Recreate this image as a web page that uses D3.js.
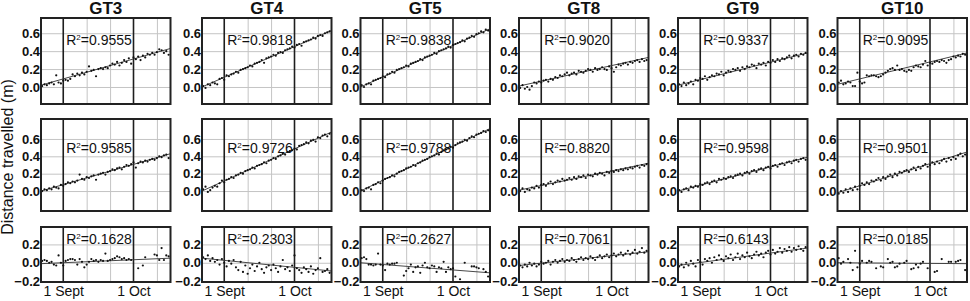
<!DOCTYPE html>
<html>
<head>
<meta charset="utf-8">
<script src="https://cdn.jsdelivr.net/npm/d3@7"></script>
<style>
  body { margin: 0; background: #fff; }
  svg { display: block; font-family: "Liberation Sans", Arial, sans-serif; }
</style>
</head>
<body>
<script>
// sensors (columns) and measurement days (days from 1 Sept)
const sensors = ["GT3", "GT4", "GT5", "GT8", "GT9", "GT10"];
const days = [-9, -8, -7, -6, -5, -4, -3, -2, -1, 0,
              1, 2, 3, 4, 5, 6, 7, 8, 9, 10,
              11, 12, 13, 14, 15, 16, 17, 18, 19, 20,
              21, 22, 23, 24, 25, 26, 27, 28, 29, 30,
              31, 32, 33, 34, 35, 36, 37, 38, 39, 40,
              41, 42, 43, 44, 45];

// top row of panels
const distTop = [
  [0.01,0.03,0.02,0.04,0.05,0.03,0.13,0.05,0.04,0.07, 0.08,0.07,0.09,0.14,0.12,0.15,0.13,0.16,0.14,0.17,
   0.23,0.18,0.19,0.12,0.20,0.21,0.20,0.22,0.21,0.24, 0.26,0.25,0.28,0.24,0.27,0.30,0.28,0.32,0.26,0.33,
   0.31,0.34,0.30,0.35,0.33,0.37,0.36,0.38,0.36,0.39, 0.42,0.41,0.38,0.40,0.36],
  [0.01,-0.01,0.03,0.02,0.05,0.04,0.03,0.09,0.10,0.08, 0.13,0.12,0.14,0.15,0.17,0.16,0.19,0.20,0.21,0.22,
   0.24,0.23,0.26,0.27,0.28,0.30,0.27,0.32,0.33,0.34, 0.36,0.35,0.38,0.39,0.38,0.41,0.42,0.43,0.45,0.44,
   0.47,0.48,0.46,0.50,0.51,0.52,0.53,0.55,0.54,0.57, 0.58,0.57,0.60,0.61,0.62],
  [0.02,0.00,0.03,0.04,0.03,0.07,0.08,0.09,0.10,0.12, 0.11,0.14,0.15,0.17,0.16,0.19,0.20,0.21,0.22,0.24,
   0.23,0.26,0.27,0.28,0.29,0.31,0.30,0.33,0.34,0.35, 0.36,0.38,0.37,0.40,0.41,0.42,0.43,0.45,0.44,0.47,
   0.48,0.49,0.50,0.52,0.51,0.54,0.55,0.57,0.56,0.59, 0.60,0.62,0.61,0.64,0.63],
  [-0.01,0.02,-0.02,0.00,-0.03,0.01,0.05,0.04,0.06,0.05, 0.07,0.08,0.06,0.09,0.08,0.11,0.10,0.13,0.12,0.14,
   0.16,0.13,0.15,0.16,0.14,0.18,0.17,0.16,0.18,0.20, 0.19,0.17,0.21,0.19,0.20,0.22,0.20,0.19,0.23,0.21,
   0.17,0.22,0.25,0.24,0.26,0.27,0.25,0.28,0.27,0.29, 0.30,0.28,0.31,0.29,0.30],
  [0.03,0.01,0.05,0.02,0.04,0.06,0.03,0.08,0.07,0.10, 0.09,0.12,0.08,0.11,0.13,0.12,0.15,0.14,0.17,0.13,
   0.16,0.18,0.17,0.20,0.19,0.21,0.18,0.22,0.20,0.23, 0.22,0.25,0.24,0.21,0.26,0.25,0.27,0.24,0.28,0.27,
   0.30,0.28,0.31,0.29,0.32,0.31,0.33,0.35,0.32,0.35, 0.36,0.34,0.37,0.36,0.38],
  [0.05,0.07,0.03,0.04,0.06,0.05,0.01,0.01,0.16,0.06, 0.04,0.05,0.13,0.12,0.13,0.13,0.12,0.11,0.12,0.14,
   0.16,0.18,0.20,0.21,0.19,0.24,0.19,0.20,0.18,0.17, 0.19,0.18,0.22,0.24,0.23,0.22,0.25,0.29,0.24,0.27,
   0.26,0.28,0.29,0.28,0.30,0.29,0.27,0.30,0.31,0.34, 0.33,0.35,0.34,0.37,0.36]
];
// middle row
const distMid = [
  [0.00,0.02,0.01,0.03,0.02,0.05,0.04,0.03,0.07,0.06, 0.08,0.10,0.09,0.11,0.10,0.12,0.19,0.14,0.13,0.16,
   0.15,0.17,0.18,0.13,0.19,0.20,0.21,0.19,0.22,0.23, 0.25,0.24,0.26,0.27,0.25,0.28,0.30,0.29,0.31,0.33,
   0.27,0.32,0.34,0.33,0.35,0.34,0.36,0.37,0.36,0.38, 0.40,0.39,0.41,0.42,0.38],
  [0.02,0.05,-0.01,0.01,0.04,0.06,0.05,0.09,0.12,0.10, 0.13,0.14,0.16,0.15,0.18,0.19,0.21,0.20,0.23,0.24,
   0.25,0.27,0.26,0.29,0.30,0.31,0.33,0.32,0.35,0.36, 0.38,0.37,0.40,0.41,0.43,0.42,0.45,0.46,0.47,0.49,
   0.48,0.52,0.53,0.54,0.56,0.55,0.58,0.59,0.57,0.62, 0.61,0.64,0.65,0.63,0.66],
  [0.01,0.00,0.03,0.04,0.02,0.07,0.08,0.10,0.09,0.12, 0.14,0.15,0.16,0.18,0.17,0.20,0.22,0.23,0.24,0.26,
   0.27,0.28,0.30,0.29,0.32,0.33,0.35,0.36,0.37,0.39, 0.40,0.41,0.43,0.42,0.45,0.47,0.48,0.49,0.51,0.50,
   0.53,0.55,0.56,0.57,0.59,0.58,0.61,0.63,0.62,0.65, 0.66,0.67,0.69,0.68,0.70],
  [0.00,0.03,-0.01,0.02,0.01,0.04,0.03,0.06,0.04,0.07, 0.08,0.06,0.09,0.11,0.08,0.10,0.12,0.11,0.14,0.12,
   0.13,0.15,0.13,0.16,0.14,0.17,0.16,0.18,0.15,0.19, 0.18,0.17,0.20,0.19,0.21,0.20,0.18,0.22,0.21,0.23,
   0.22,0.24,0.23,0.25,0.24,0.26,0.25,0.27,0.26,0.28, 0.29,0.27,0.30,0.29,0.31],
  [0.01,-0.01,0.02,0.03,0.01,0.05,0.04,0.06,0.05,0.08, 0.07,0.09,0.10,0.08,0.11,0.12,0.10,0.14,0.13,0.15,
   0.14,0.16,0.17,0.15,0.18,0.19,0.20,0.18,0.21,0.22, 0.20,0.23,0.24,0.22,0.25,0.26,0.24,0.27,0.28,0.26,
   0.29,0.30,0.28,0.31,0.32,0.30,0.33,0.34,0.32,0.35, 0.36,0.34,0.37,0.38,0.36],
  [-0.03,0.00,-0.02,0.02,-0.01,0.03,0.01,0.05,0.02,0.06, 0.09,0.07,0.10,0.08,0.12,0.11,0.13,0.15,0.12,0.16,
   0.14,0.17,0.19,0.16,0.20,0.18,0.22,0.21,0.23,0.24, 0.22,0.25,0.27,0.24,0.28,0.26,0.29,0.31,0.28,0.30,
   0.33,0.31,0.34,0.32,0.35,0.37,0.34,0.38,0.36,0.39, 0.37,0.41,0.43,0.40,0.42]
];
// bottom row
const distLow = [
  [0.02,0.03,0.02,0.00,0.01,-0.02,-0.03,0.08,0.00,-0.03, 0.02,0.03,0.04,0.04,0.03,-0.02,0.04,0.01,-0.05,-0.02,
   0.01,0.04,0.02,0.03,0.01,0.03,0.02,0.10,0.02,0.03, 0.04,0.05,0.07,0.06,0.04,0.05,0.03,0.04,0.03,null,
   null,-0.06,null,-0.03,0.06,null,null,null,0.09,0.08, 0.03,0.16,0.03,0.08,0.07],
  [0.06,0.04,0.08,0.02,0.05,0.01,0.03,-0.02,0.04,0.00, -0.04,0.02,-0.01,0.03,-0.05,-0.08,0.01,-0.10,-0.03,-0.12,
   -0.06,-0.02,-0.09,-0.04,0.00,-0.07,-0.11,-0.05,-0.03,-0.08, -0.02,-0.06,-0.10,-0.04,0.03,-0.07,-0.05,-0.09,-0.03,0.08,
   -0.06,-0.08,-0.11,-0.05,-0.07,-0.10,-0.04,-0.12,-0.08,-0.06, 0.05,-0.10,-0.09,-0.07,-0.11],
  [0.05,0.06,0.04,-0.02,-0.02,-0.03,-0.02,0.10,-0.02,-0.03, -0.08,-0.01,-0.02,-0.01,-0.01,0.00,null,null,-0.14,-0.09,
   -0.06,-0.02,-0.10,-0.05,-0.04,-0.11,-0.03,0.00,-0.05,-0.06, -0.03,-0.04,-0.10,-0.05,-0.06,0.01,-0.10,-0.05,-0.07,-0.06,
   -0.15,null,-0.18,null,0.00,null,null,-0.04,-0.04,-0.05, -0.06,null,-0.07,-0.10,-0.15],
  [-0.03,-0.05,-0.02,-0.04,0.00,-0.03,-0.01,-0.04,-0.02,0.01, -0.01,0.00,0.02,-0.02,0.01,0.03,0.00,0.02,0.04,0.01,
   0.03,0.02,0.05,0.03,0.01,0.04,0.06,0.03,0.05,0.04, 0.07,0.05,0.03,0.06,0.08,0.05,0.07,0.09,0.06,0.08,
   0.10,0.07,0.09,0.11,0.08,0.10,0.13,0.09,0.11,0.14, 0.10,0.12,0.16,0.11,0.13],
  [-0.04,-0.02,-0.05,0.00,-0.03,0.02,-0.01,-0.04,0.03,0.01, -0.02,0.04,0.02,0.05,0.00,0.06,0.03,0.08,0.04,0.02,
   0.07,0.05,0.09,0.03,0.06,0.10,0.04,0.08,0.06,0.11, 0.07,0.05,0.09,0.12,0.08,0.10,0.06,0.11,0.13,0.09,
   0.14,0.10,0.12,0.16,0.11,0.15,0.13,0.17,0.12,0.16, 0.14,0.18,0.15,0.13,0.17],
  [0.05,-0.01,0.01,null,0.04,0.00,-0.08,0.13,-0.05,-0.01, 0.02,null,0.00,0.02,0.01,null,-0.06,null,-0.04,-0.05,
   null,0.04,0.00,0.01,-0.05,-0.04,-0.01,null,0.00,0.02, null,-0.07,-0.06,-0.02,-0.05,-0.01,0.01,null,-0.06,null,
   null,-0.10,-0.09,null,0.04,null,null,0.01,0.01,null, 0.01,0.02,0.03,null,-0.08]
];

// fitted line values at the left and right panel edges
const fitTop = [[0.02, 0.43], [0.00, 0.63], [0.00, 0.65], [0.01, 0.33], [0.02, 0.38], [0.03, 0.38]];
const fitMid = [[0.00, 0.43], [0.00, 0.68], [0.00, 0.72], [0.01, 0.32], [0.00, 0.39], [-0.02, 0.45]];
const fitLow = [[-0.01, 0.05], [0.05, -0.09], [0.00, -0.11], [-0.03, 0.12], [-0.03, 0.16], [0.00, -0.01]];

const r2Top = ["0.9555", "0.9818", "0.9838", "0.9020", "0.9337", "0.9095"];
const r2Mid = ["0.9585", "0.9726", "0.9788", "0.8820", "0.9598", "0.9501"];
const r2Low = ["0.1628", "0.2303", "0.2627", "0.7061", "0.6143", "0.0185"];

const dateTicks = [0, 30];
const dateLabels = ["1 Sept", "1 Oct"];
const gridDays = [10, 20, 40];

const w = 970;
const h = 301;
const colLeft = [41, 202, 360.5, 519, 678, 837.5];
const panelW = 129.5;

const rows = [
  {vals: distTop, fit: fitTop, r2: r2Top, top: 18, bottom: 104, domain: [-0.19, 0.77], ticks: [0, 0.2, 0.4, 0.6], r2y: 26.5},
  {vals: distMid, fit: fitMid, r2: r2Mid, top: 119, bottom: 211, domain: [-0.23, 0.83], ticks: [0, 0.2, 0.4, 0.6], r2y: 34},
  {vals: distLow, fit: fitLow, r2: r2Low, top: 227, bottom: 282, domain: [-0.21, 0.39], ticks: [-0.2, 0, 0.2], r2y: 17}
];

const svg = d3.select("body")
  .append("svg")
  .attr("width", w)
  .attr("height", h);

// column titles
sensors.forEach((s, c) => {
  svg.append("text")
    .attr("x", colLeft[c] + panelW / 2)
    .attr("y", 14)
    .attr("text-anchor", "middle")
    .style("font-size", "17px")
    .style("font-weight", "bold")
    .style("fill", "#111")
    .text(s);
});

svg.append("text")
  .attr("transform", "translate(13,157) rotate(-90)")
  .attr("text-anchor", "middle")
  .style("font-size", "16px")
  .style("fill", "#111")
  .text("Distance travelled (m)");

rows.forEach((row, r) => {
  const yScale = d3.scaleLinear()
    .domain(row.domain)
    .range([row.bottom, row.top]);
  const ph = row.bottom - row.top;

  sensors.forEach((s, c) => {
    const xScale = d3.scaleLinear()
      .domain([-9.5, 45.8])
      .range([colLeft[c], colLeft[c] + panelW]);

    const g = svg.append("g");

    // light grid
    g.append("g")
      .attr("transform", "translate(" + colLeft[c] + ",0)")
      .call(d3.axisLeft(yScale).tickValues(row.ticks.filter(t => t > row.domain[0] + 0.02)).tickSize(-panelW).tickFormat(""))
      .call(a => a.select(".domain").remove())
      .call(a => a.selectAll("line").attr("stroke", "#c4c4c4").attr("stroke-width", 1));

    g.append("g")
      .attr("transform", "translate(0," + row.bottom + ")")
      .call(d3.axisBottom(xScale).tickValues(gridDays).tickSize(-ph).tickFormat(""))
      .call(a => a.select(".domain").remove())
      .call(a => a.selectAll("line").attr("stroke", "#c4c4c4").attr("stroke-width", 1));

    // month start lines
    g.selectAll(".month")
      .data(dateTicks)
      .enter()
      .append("line")
      .attr("x1", d => xScale(d))
      .attr("x2", d => xScale(d))
      .attr("y1", row.top)
      .attr("y2", row.bottom)
      .attr("stroke", "#1e1e1e")
      .attr("stroke-width", 1.6);

    // fitted line
    const xd = xScale.domain();
    g.append("line")
      .attr("x1", xScale(xd[0]))
      .attr("x2", xScale(xd[1]))
      .attr("y1", yScale(row.fit[c][0]))
      .attr("y2", yScale(row.fit[c][1]))
      .attr("stroke", "#333")
      .attr("stroke-width", 0.9);

    const pts = days.map((d, i) => ({day: d, v: row.vals[c][i]})).filter(p => p.v !== null);
    g.selectAll("circle")
      .data(pts)
      .enter()
      .append("circle")
      .attr("cx", p => xScale(p.day))
      .attr("cy", p => yScale(p.v))
      .attr("r", 1.1)
      .style("fill", "#111");

    // frame
    g.append("rect")
      .attr("x", colLeft[c])
      .attr("y", row.top)
      .attr("width", panelW)
      .attr("height", ph)
      .style("fill", "none")
      .style("stroke", "#222")
      .style("stroke-width", 2);

    // R squared
    const t = g.append("text")
      .attr("x", xScale(0) + 3)
      .attr("y", row.top + row.r2y)
      .style("font-size", "14px")
      .style("fill", "#111");
    t.append("tspan").text("R");
    t.append("tspan").attr("dy", -5).style("font-size", "8px").text("2");
    t.append("tspan").attr("dy", 5).text("=" + row.r2[c]);

    // y tick labels
    g.append("g")
      .attr("transform", "translate(" + (colLeft[c] - 1) + ",0)")
      .call(d3.axisLeft(yScale).tickValues(row.ticks).tickSize(0).tickPadding(0).tickFormat(d3.format(".1f")))
      .call(a => a.select(".domain").remove())
      .call(a => a.selectAll("text")
        .style("font-family", "'Liberation Sans', Arial, sans-serif")
        .style("font-size", "13px")
        .style("font-weight", "bold")
        .style("fill", "#111"));

    // date labels under bottom row
    if (r === rows.length - 1) {
      g.append("g")
        .attr("transform", "translate(0," + row.bottom + ")")
        .call(d3.axisBottom(xScale).tickValues(dateTicks).tickSize(0).tickPadding(4)
          .tickFormat((d, i) => dateLabels[i]))
        .call(a => a.select(".domain").remove())
        .call(a => a.selectAll("text")
          .style("font-family", "'Liberation Sans', Arial, sans-serif")
          .style("font-size", "14px")
          .style("fill", "#111"));
    }
  });
});
</script>
</body>
</html>
